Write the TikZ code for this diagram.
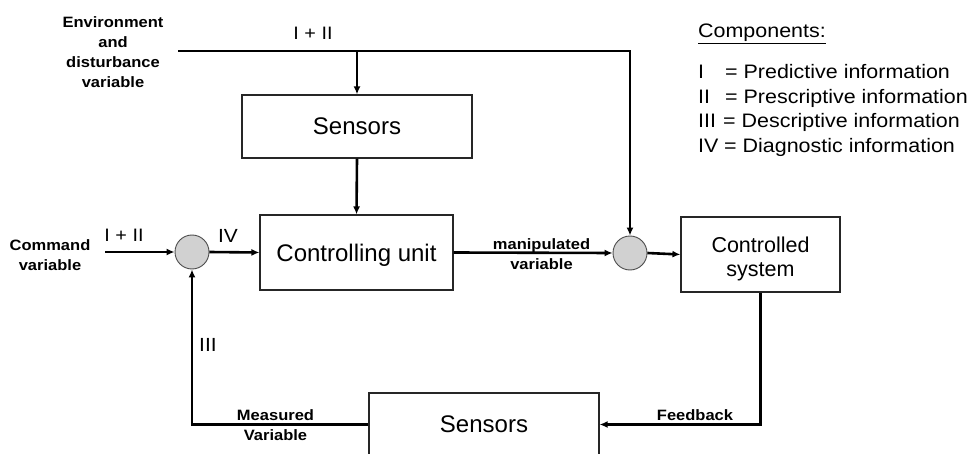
\documentclass[tikz,border=0pt]{standalone}
\usepackage{fontspec}
\setmainfont{Liberation Sans}
\newfontfamily\widesans[FakeStretch=1.1]{Liberation Sans}
\usetikzlibrary{arrows.meta}

\newcommand\boxfont{\fontsize{24}{28}\selectfont}
\newcommand\cstextfont{\fontsize{21.5}{24}\selectfont}
\newcommand\lblfont{\widesans\bfseries\fontsize{15}{20}\selectfont}
\newcommand\numfont{\widesans\fontsize{18}{22}\selectfont}
\newcommand\legfont{\widesans\fontsize{19.5}{24.5}\selectfont}

\begin{document}
\begin{tikzpicture}[x=1pt,y=-1pt,
  box/.style={draw=black!85, line width=1.2pt, fill=white, inner sep=0pt},
  junction/.style={circle, draw=black!70, line width=0.9pt, fill=black!18,
    minimum size=34pt, inner sep=0pt},
  flow/.style={line width=2.6pt, line join=miter, -{Latex[length=8pt,width=7pt]}},
  lbl/.style={font=\lblfont, align=center, inner sep=0pt},
  num/.style={font=\numfont, inner sep=0pt},
  legend/.style={font=\legfont, inner sep=0pt, anchor=base west}]
\useasboundingbox (0,0) rectangle (968,454);

% blocks
\node[box, minimum width=230pt, minimum height=63pt, font=\boxfont] (sensA) at (357,126.5) {Sensors};
\node[box, minimum width=193pt, minimum height=75pt, font=\boxfont, text depth=0pt] (cu) at (356.5,252.5) {Controlling unit};
\node[box, minimum width=159pt, minimum height=75pt, font=\cstextfont] (cs) at (760.5,254.5)
  {\raisebox{-5pt}[\height][\depth]{\begin{tabular}{@{}c@{}}Controlled\\system\end{tabular}}};
\node[box, minimum width=230pt, minimum height=63pt, font=\boxfont] (sensB) at (484,424.5) {Sensors};

% summing points
\node[junction] (j1) at (192,252) {};
\node[junction] (j2) at (630,253) {};

% free ends of the inputs
\coordinate (env) at (178,51);
\coordinate (envR) at (630,51);
\coordinate (cmd) at (105,252);

% connectors
\draw[flow] (env) -- (envR) -- (j2.north);
\draw[flow] (sensA.north |- env) -- (sensA.north);
\draw[flow] (sensA.south) -- (cu.north);
\draw[flow] (cmd) -- (j1.west);
\draw[flow] (j1.east) -- (cu.west);
\draw[flow] (cu.east) -- (j2.west);
\draw[flow] (j2.east) -- (cs.west);
\draw[flow] (cs.south) -- (cs.south |- sensB.east) -- (sensB.east);
\draw[flow] (sensB.west) -- (j1.south |- sensB.west) -- (j1.south);

% signal labels
\node[lbl, anchor=north] (envlbl) at (113,16) {Environment\\and\\disturbance\\variable};
\node[lbl, anchor=north] (cmdlbl) at (50,239.5) {Command\\variable};
\node[lbl, anchor=north] (mvlbl) at (541.5,238.5) {manipulated\\variable};
\node[lbl, anchor=north] (measlbl) at (275.5,409) {Measured\\Variable};
\node[lbl, anchor=north] (fblbl) at (695,409) {Feedback};

\node[num, anchor=base] (topinfo) at (313,39.5) {I + II};
\node[num, anchor=base] (cmdinfo) at (124,242) {I + II};
\node[num, anchor=base, font=\widesans\fontsize{19}{22}\selectfont] (ivinfo) at (228,243) {IV};
\node[num, anchor=base west, font=\widesans\fontsize{19}{22}\selectfont] (iiiinfo) at (199,351.5) {III};

% legend
\node[legend] (comp) at (698,38) {\underline{Components:}};
\node[legend] (n1) at (698,79) {I};
\node[legend] (d1) at (725,79) {= Predictive information};
\node[legend] (n2) at (698,103.5) {II};
\node[legend] (d2) at (725,103.5) {= Prescriptive information};
\node[legend] (n3) at (698,128) {III};
\node[legend] (d3) at (723,128) {= Descriptive information};
\node[legend] (n4) at (698,152.5) {IV};
\node[legend] (d4) at (724,152.5) {= Diagnostic information};
\end{tikzpicture}
\end{document}
